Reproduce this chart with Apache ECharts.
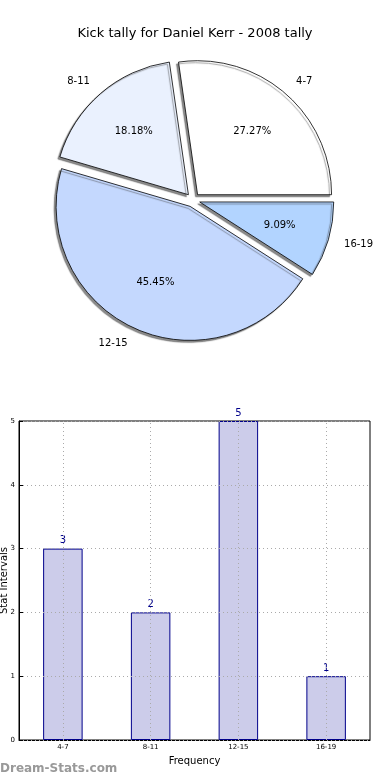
<!DOCTYPE html>
<html><head><meta charset="utf-8">
<script src="https://cdn.jsdelivr.net/npm/echarts@6/dist/echarts.min.js"></script>
<style>html,body{margin:0;padding:0;background:#fff}#c{width:390px;height:780px}</style>
</head><body><div id="c"></div>
<script>
const titleText = 'Kick tally for Daniel Kerr - 2008 tally';
const categories = ['4-7', '8-11', '12-15', '16-19'];
const counts = [3, 2, 5, 1];
const sliceColors = ['#ffffff', '#eaf1fe', '#c4d8fe', '#b2d4ff'];
const yTicks = [0, 1, 2, 3, 4, 5];
const xAxisName = 'Frequency';
const yAxisName = 'Stat Intervals';
const watermark = 'Dream-Stats.com';

const FONT = 'DejaVu Sans';
const R = 134;
const CENTER = [193, 200];
const total = counts.reduce((a, b) => a + b, 0);

const cv = document.createElement('canvas').getContext('2d');
cv.font = '10px "' + FONT + '"';

let cum = 0;
const nameData = [], pctData = [], pieData = [];
counts.forEach((v, i) => {
  const mid = (cum + v / 2) / total * 2 * Math.PI;
  cum += v;
  const w = cv.measureText(categories[i]).width;
  const right = Math.cos(mid) >= 0;
  pieData.push({ name: categories[i], value: v, selected: true, itemStyle: { color: sliceColors[i] } });
  pctData.push({ name: categories[i], value: v, selected: true });
  nameData.push({ name: categories[i], value: v, selected: true,
    label: { padding: right ? [0, 0, 0, w] : [0, w, 0, 0] } });
});

const common = {
  type: 'pie', center: CENTER, startAngle: 0, clockwise: false,
  selectedMode: 'multiple', selectedOffset: 7, silent: true,
  emphasis: { disabled: true }, labelLine: { show: false }, animation: false
};
const transparentStyle = { color: 'rgba(0,0,0,0)', borderWidth: 0 };
const gridLine = { color: '#aaaaaa', type: [1, 3], width: 1 };

const chart = echarts.init(document.getElementById('c'), null, { renderer: 'canvas' });
chart.setOption({
  animation: false,
  textStyle: { fontFamily: FONT },
  title: { text: titleText, left: 'center', top: 22,
    textStyle: { fontSize: 13, fontWeight: 'normal', color: '#000', fontFamily: FONT } },
  graphic: [{ type: 'text', left: 0, top: 763,
    style: { text: watermark, fill: '#999999', font: 'bold 12px "' + FONT + '"' } }],
  grid: { left: 19, right: 20, top: 421, bottom: 40, containLabel: false, outerBoundsMode: 'none',
    show: true, borderColor: '#000', borderWidth: 1 },
  xAxis: {
    type: 'category', data: categories,
    axisLine: { lineStyle: { color: '#000' } },
    axisTick: { inside: true, alignWithLabel: true, length: 4, lineStyle: { color: '#000' } },
    axisLabel: { fontSize: 7, color: '#000', margin: 4 },
    splitLine: { show: false },
    name: xAxisName, nameLocation: 'middle', nameGap: 16, nameMoveOverlap: false,
    nameTextStyle: { fontSize: 10, color: '#000' }
  },
  yAxis: {
    type: 'value', min: yTicks[0], max: yTicks[yTicks.length - 1], interval: 1, z: 3,
    axisLine: { show: true, lineStyle: { color: '#000' } },
    axisTick: { show: true, inside: true, length: 4, lineStyle: { color: '#000' } },
    axisLabel: { fontSize: 7, color: '#000', margin: 4 },
    splitLine: { show: true, lineStyle: gridLine },
    name: yAxisName, nameLocation: 'middle', nameGap: 10, nameRotate: 90, nameMoveOverlap: false,
    nameTextStyle: { fontSize: 10, color: '#000' }
  },
  series: [
    Object.assign({}, common, {
      radius: [0, R], data: pieData,
      itemStyle: { borderColor: '#000', borderWidth: 0.8,
        shadowColor: 'rgba(60,60,60,0.6)', shadowBlur: 1, shadowOffsetX: -2, shadowOffsetY: 2 },
      select: { itemStyle: { borderColor: '#000', borderWidth: 0.8 } },
      label: { show: false }
    }),
    Object.assign({}, common, {
      radius: [R * 0.2, R], data: pctData, itemStyle: transparentStyle,
      select: { itemStyle: transparentStyle },
      label: { show: true, position: 'inside', color: '#000', fontSize: 10,
        formatter: p => (p.value / total * 100).toFixed(2) + '%' }
    }),
    Object.assign({}, common, {
      radius: [R, R * 1.2], data: nameData, itemStyle: transparentStyle,
      select: { itemStyle: transparentStyle },
      label: { show: true, position: 'inside', color: '#000', fontSize: 10, formatter: '{b}' }
    }),
    {
      type: 'bar', data: counts, barWidth: '45%', z: 2,
      itemStyle: { color: '#ccccea', borderColor: '#00008b', borderWidth: 1 },
      label: { show: true, position: 'top', color: '#00008b', fontSize: 10, distance: 3 },
      emphasis: { disabled: true },
      markLine: {
        silent: true, symbol: 'none', label: { show: false },
        lineStyle: gridLine,
        data: categories.map(c => ({ xAxis: c }))
      }
    }
  ]
});
</script>
</body></html>
